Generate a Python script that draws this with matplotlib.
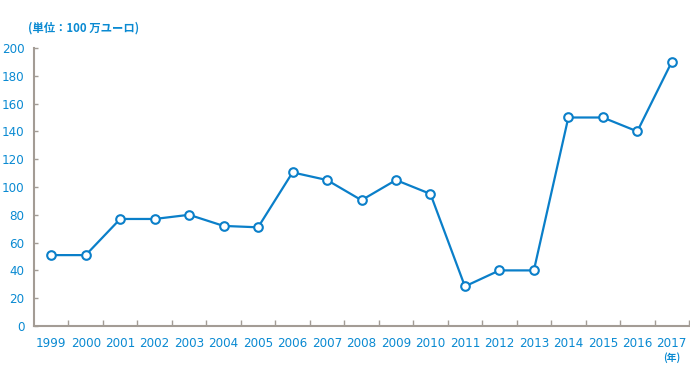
import matplotlib
matplotlib.use('Agg')
import matplotlib.pyplot as plt

years = ['1999', '2000', '2001', '2002', '2003', '2004', '2005', '2006', '2007', '2008',
         '2009', '2010', '2011', '2012', '2013', '2014', '2015', '2016', '2017']
values = [51, 51, 77, 77, 80, 72, 71, 110.5, 105, 90.5,
          105, 95, 28.5, 40, 40, 150, 150, 140, 190]
y_ticks = [0, 20, 40, 60, 80, 100, 120, 140, 160, 180, 200]

plt.rcParams['font.family'] = ['Noto Sans CJK JP', 'DejaVu Sans']

blue = '#0a7fc9'
text_blue = '#0a8ad2'
axis_gray = '#a39c95'

fig = plt.figure(figsize=(6.9, 3.84), dpi=100)
ax = fig.add_axes([34 / 690, 1 - 326 / 384, 655 / 690, 278 / 384])

x = range(len(years))
ax.plot(x, values, color=blue, linewidth=1.6, marker='o', markersize=6.2,
        markerfacecolor='white', markeredgecolor=blue, markeredgewidth=1.5,
        clip_on=False, zorder=3)

ax.set_xlim(-0.5, len(years) - 0.5)
ax.set_ylim(0, 200)

# labels at the centres, tick marks on the boundaries
ax.set_xticks(list(x))
ax.set_xticklabels(years)
ax.set_xticks([i + 0.5 for i in range(len(years))], minor=True)
ax.tick_params(axis='x', which='major', length=0, pad=8, labelcolor=text_blue)
ax.tick_params(axis='x', which='minor', direction='in', length=4, width=1, color=axis_gray)

ax.set_yticks(y_ticks)
ax.tick_params(axis='y', direction='in', length=3, width=1, color=axis_gray,
               pad=7, labelcolor=text_blue)

# narrow digits like the original
for lab in ax.get_xticklabels() + ax.get_yticklabels():
    lab.set_family(['DejaVu Sans'])
    lab.set_stretch('condensed')
    lab.set_fontsize(9.5)

for s in ['top', 'right']:
    ax.spines[s].set_visible(False)
for s in ['left', 'bottom']:
    ax.spines[s].set_color(axis_gray)
    ax.spines[s].set_linewidth(1.5)

fig.text(28 / 690, 1 - 28 / 384, '(単位：100 万ユーロ)', color=text_blue,
         fontsize=8.2, fontweight='bold', va='center', ha='left')
fig.text(672 / 690, 1 - 358 / 384, '(年)', color=text_blue,
         fontsize=7, fontweight='bold', va='center', ha='center')

fig.savefig('out.png', dpi=100, facecolor='white')
plt.close(fig)
